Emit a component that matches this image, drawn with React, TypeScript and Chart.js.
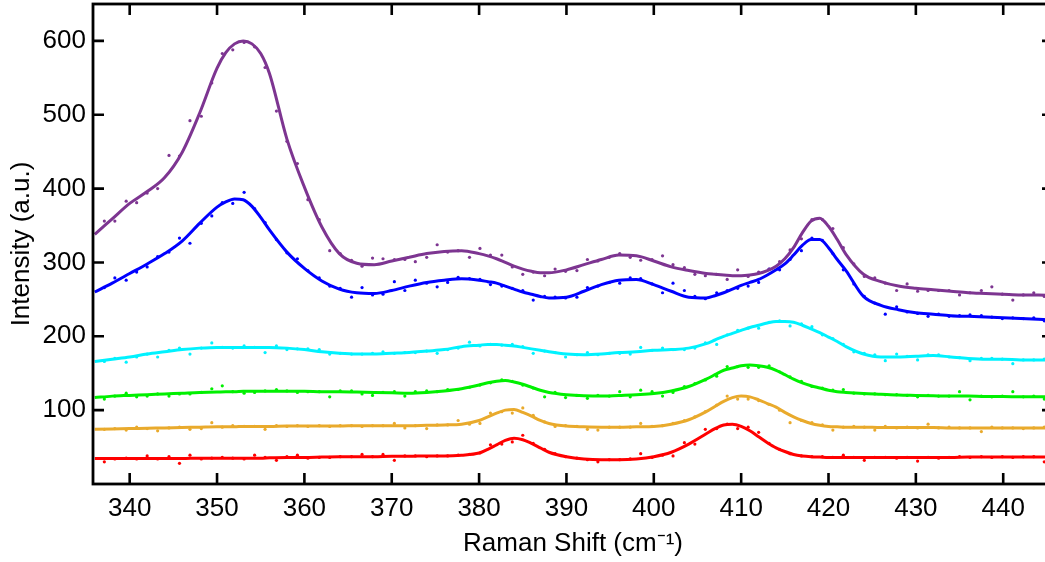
import React, { useEffect, useRef } from 'react';
import { Chart, registerables } from 'chart.js';

Chart.register(...registerables);

// Axis settings
const X_MIN = 335.8;
const X_MAX = 445.7;
const Y_MIN = 0;
const Y_MAX = 650;
const X_TICKS = [340, 350, 360, 370, 380, 390, 400, 410, 420, 430, 440];
const Y_TICKS = [100, 200, 300, 400, 500, 600];

// Measured spectrum sample positions (Raman shift, cm-1)
const DOT_X = [
  337.1, 338.3, 339.6, 340.8, 342.0, 343.2, 344.5, 345.7, 346.9, 348.2,
  349.4, 350.6, 351.8, 353.1, 354.3, 355.5, 356.8, 358.0, 359.2, 360.4,
  361.7, 362.9, 364.1, 365.4, 366.6, 367.8, 369.0, 370.3, 371.5, 372.7,
  374.0, 375.2, 376.4, 377.6, 378.9, 380.1, 381.3, 382.6, 383.8, 385.0,
  386.2, 387.5, 388.7, 389.9, 391.2, 392.4, 393.6, 394.9, 396.1, 397.3,
  398.5, 399.8, 401.0, 402.2, 403.5, 404.7, 405.9, 407.2, 408.4, 409.6,
  410.8, 412.0, 413.2, 414.4, 415.6, 416.9, 418.1, 419.3, 420.5, 421.7,
  422.9, 424.1, 425.3, 426.5, 427.8, 429.0, 430.2, 431.4, 432.6, 433.8,
  435.0, 436.2, 437.5, 438.7, 439.9, 441.1, 442.3, 443.5, 444.7,
];

const PURPLE_DOTS = [
  356, 356, 383, 381, 394, 400, 445, 444, 492, 498,
  543, 583, 588, 598, 592, 564, 505, 464, 434, 385,
  358, 316, 312, 303, 295, 306, 305, 304, 304, 301,
  307, 324, 314, 316, 307, 319, 310, 310, 294, 284,
  287, 282, 291, 288, 289, 304, 302, 307, 312, 307,
  303, 304, 309, 297, 293, 284, 282, 284, 277, 290,
  281, 287, 291, 301, 317, 332, 358, 358, 346, 320,
  298, 281, 279, 272, 262, 271, 261, 262, 262, 262,
  256, 259, 262, 267, 257, 249, 256, 259, 254,
];
const BLUE_DOTS = [
  266, 279, 276, 287, 294, 308, 314, 333, 326, 353,
  363, 381, 380, 395, 373, 354, 331, 313, 305, 289,
  279, 268, 265, 253, 266, 256, 257, 274, 262, 276,
  272, 267, 273, 280, 278, 277, 270, 268, 265, 262,
  249, 254, 253, 252, 253, 266, 268, 273, 272, 279,
  278, 271, 259, 272, 262, 254, 251, 259, 262, 265,
  268, 273, 291, 290, 304, 316, 333, 330, 312, 290,
  271, 254, 245, 230, 240, 233, 231, 227, 230, 227,
  228, 229, 228, 226, 224, 225, 224, 225, 221,
];
const CYAN_DOTS = [
  166, 170, 165, 172, 176, 172, 181, 184, 176, 184,
  191, 185, 184, 187, 185, 178, 187, 182, 183, 183,
  182, 176, 177, 176, 176, 177, 179, 177, 178, 178,
  180, 177, 182, 184, 192, 187, 189, 188, 189, 186,
  177, 180, 178, 172, 175, 178, 175, 177, 177, 176,
  185, 181, 184, 182, 182, 184, 191, 189, 202, 208,
  211, 211, 219, 221, 214, 217, 213, 202, 197, 189,
  179, 177, 175, 167, 176, 173, 168, 175, 175, 172,
  171, 167, 170, 170, 169, 163, 168, 168, 169,
];
const GREEN_DOTS = [
  115, 119, 123, 118, 119, 122, 119, 122, 122, 124,
  129, 133, 125, 123, 124, 126, 128, 126, 124, 125,
  125, 118, 126, 126, 122, 120, 124, 125, 119, 125,
  126, 125, 128, 128, 131, 134, 137, 141, 139, 134,
  130, 118, 124, 117, 120, 116, 120, 119, 125, 118,
  127, 125, 119, 124, 132, 136, 141, 146, 159, 159,
  158, 158, 160, 152, 145, 139, 132, 130, 127, 128,
  123, 122, 122, 121, 121, 120, 118, 120, 119, 119,
  125, 114, 119, 118, 119, 125, 118, 119, 115,
];
const ORANGE_DOTS = [
  74, 75, 73, 77, 75, 72, 76, 77, 74, 75,
  83, 77, 79, 78, 78, 74, 79, 78, 79, 78,
  79, 78, 79, 79, 78, 79, 79, 82, 76, 79,
  75, 80, 80, 86, 81, 82, 96, 98, 96, 103,
  93, 84, 78, 79, 78, 74, 73, 77, 77, 77,
  82, 78, 79, 82, 86, 91, 98, 107, 119, 115,
  115, 113, 108, 100, 83, 86, 83, 80, 73, 77,
  78, 77, 73, 78, 76, 77, 76, 81, 76, 77,
  76, 76, 71, 77, 76, 76, 75, 76, 77,
];
const RED_DOTS = [
  30, 34, 35, 34, 38, 34, 37, 28, 39, 34,
  35, 36, 35, 34, 39, 36, 32, 37, 39, 35,
  36, 36, 37, 37, 40, 37, 40, 32, 38, 38,
  37, 38, 38, 39, 40, 42, 53, 54, 57, 66,
  55, 47, 41, 37, 35, 33, 30, 33, 33, 34,
  41, 36, 39, 38, 56, 54, 74, 75, 81, 75,
  77, 70, 55, 47, 41, 38, 37, 37, 36, 39,
  36, 32, 36, 36, 35, 36, 31, 36, 35, 36,
  37, 36, 37, 36, 37, 36, 37, 37, 30,
];

// Fitted curves, sampled positions
const FIT_X = [
  336, 338, 340, 342, 344, 346, 348, 350, 351, 352, 353, 354, 355, 356,
  358, 360, 362, 364, 366, 368, 370, 372, 374, 376, 378, 380,
  381, 382, 383, 384, 385, 386, 387, 388,
  390, 392, 394, 396, 398, 400, 402, 404, 406,
  407, 408, 409, 410, 411, 412, 413, 414, 415, 416, 417, 418, 419, 420, 421, 422,
  424, 426, 428, 430, 432, 434, 436, 438, 440, 442, 444, 446,
];

const PURPLE_FIT = [
  338, 359, 380, 396, 415, 449, 502, 563, 584, 596, 600, 596, 583, 556,
  467, 402, 348, 312, 299, 297, 302, 307, 312, 315, 316, 312,
  309, 305, 300, 295, 291, 288, 286, 286,
  290, 297, 304, 310, 309, 302, 294, 289, 285,
  284, 283, 282, 282, 283, 285, 289, 295, 305, 320, 340, 356, 360, 349, 331, 311,
  284, 274, 268, 265, 263, 261, 259, 258, 257, 256, 256, 255,
];
const BLUE_FIT = [
  260, 272, 285, 298, 312, 329, 353, 375, 382, 386, 385, 376, 361, 344,
  314, 292, 275, 264, 259, 258, 262, 268, 273, 276, 278, 276,
  274, 272, 268, 264, 260, 257, 254, 252,
  253, 261, 270, 276, 277, 270, 261, 253, 252,
  255, 259, 264, 269, 273, 277, 283, 290, 298, 310, 323, 331, 331, 320, 304, 289,
  254, 242, 236, 232, 230, 228, 227, 226, 225, 224, 223, 222,
];
const CYAN_FIT = [
  166, 169, 172, 176, 179, 182, 184, 185, 185, 185, 185, 185, 185, 185,
  184, 182, 179, 177, 176, 176, 177, 178, 180, 182, 186, 188,
  189, 189, 188, 187, 185, 183, 181, 179,
  176, 175, 176, 178, 179, 181, 182, 184, 190,
  195, 200, 204, 208, 212, 215, 218, 220, 220, 219, 215, 210, 205, 199, 193, 186,
  176, 172, 172, 173, 174, 172, 170, 169, 169, 168, 168, 168,
];
const GREEN_FIT = [
  117, 119, 120, 121, 122, 123, 124, 124.5, 125, 125, 125.5, 125.5, 125.5, 125.5,
  125.5, 125.5, 125, 125, 124.5, 124, 123.5, 123, 124, 126, 129, 134,
  137, 139, 140, 138, 135, 131, 127, 124,
  121, 119.5, 119, 120, 121, 122.5, 126, 132, 142,
  148, 154, 157, 160, 161, 160, 158, 154, 148, 142, 137, 133, 130, 127, 125, 124,
  122.5, 121.5, 120.5, 120, 119.5, 119, 119, 118.5, 118.5, 118, 118, 118,
];
const ORANGE_FIT = [
  74, 74.5, 75, 75.5, 76, 76.5, 77, 77.5, 77.5, 77.5, 78, 78, 78, 78,
  78.5, 78.5, 78.5, 78.5, 79, 79, 79, 79, 79.5, 80, 81, 86,
  91, 96, 100, 101, 97, 92, 86, 82,
  78.5, 77.5, 77, 77, 77.5, 78, 81, 87, 98,
  105, 112, 117, 119, 118, 114, 109, 104, 97, 91, 86, 82, 79.5, 78, 77.5, 77,
  77, 76.5, 76.5, 76.5, 76.5, 76, 76, 76, 76, 76, 76, 76,
];
const RED_FIT = [
  34.5, 34.5, 34.5, 34.5, 34.5, 34.5, 35, 35, 35, 35, 35, 35, 35, 35.5,
  36, 36, 36.5, 37, 37, 37, 37.5, 37.5, 38, 38, 39, 42,
  47, 53, 59, 62, 60, 55, 49, 43,
  37, 34, 33, 33, 34, 37, 43, 54, 68,
  75, 80, 81, 78, 72, 64, 56, 49, 44, 40, 38, 37, 36.5, 36, 36, 36,
  36, 36, 36, 36, 36, 36, 36.5, 36.5, 36.5, 36.5, 36.5, 36.5,
];

const SERIES = [
  { name: 'S6', color: '#7d3591', dots: PURPLE_DOTS, fit: PURPLE_FIT },
  { name: 'S5', color: '#0000ff', dots: BLUE_DOTS, fit: BLUE_FIT },
  { name: 'S4', color: '#00f2ff', dots: CYAN_DOTS, fit: CYAN_FIT },
  { name: 'S3', color: '#00f000', dots: GREEN_DOTS, fit: GREEN_FIT },
  { name: 'S2', color: '#e9aa2c', dots: ORANGE_DOTS, fit: ORANGE_FIT },
  { name: 'S1', color: '#ff0000', dots: RED_DOTS, fit: RED_FIT },
];

const FONT_FAMILY = '"Liberation Sans", Arial, Helvetica, sans-serif';

const framePlugin = {
  id: 'frameTicks',
  afterDatasetsDraw(chart: any) {
    const { ctx, chartArea: a, scales } = chart;
    const xs = scales.x;
    const ys = scales.y;
    const L = 11;
    ctx.save();
    ctx.strokeStyle = '#000';
    ctx.lineWidth = 2.6;
    ctx.lineCap = 'butt';
    ctx.beginPath();
    for (const v of X_TICKS) {
      const px = xs.getPixelForValue(v);
      ctx.moveTo(px, a.bottom);
      ctx.lineTo(px, a.bottom - L);
      ctx.moveTo(px, a.top);
      ctx.lineTo(px, a.top + L);
    }
    for (const v of Y_TICKS) {
      const py = ys.getPixelForValue(v);
      ctx.moveTo(a.left, py);
      ctx.lineTo(a.left + L, py);
      ctx.moveTo(a.right, py);
      ctx.lineTo(a.right - L, py);
    }
    ctx.stroke();
    ctx.lineWidth = 2.8;
    ctx.strokeRect(a.left, a.top, a.right - a.left, a.bottom - a.top);
    ctx.restore();
  },
};

export default function App() {
  const canvasRef = useRef<HTMLCanvasElement | null>(null);

  useEffect(() => {
    const canvas = canvasRef.current;
    if (!canvas) return;

    const datasets: any[] = [];
    SERIES.forEach((s) => {
      datasets.push({
        label: s.name + ' fit',
        data: FIT_X.map((x, i) => ({ x, y: s.fit[i] })),
        borderColor: s.color,
        borderWidth: 3,
        pointRadius: 0,
        fill: false,
        cubicInterpolationMode: 'monotone',
        order: 0,
      });
      datasets.push({
        label: s.name,
        data: DOT_X.map((x, i) => ({ x, y: s.dots[i] })),
        showLine: false,
        pointRadius: 1.6,
        pointBorderWidth: 0,
        pointBackgroundColor: s.color,
        borderColor: s.color,
        order: 1,
      });
    });

    const chart = new Chart(canvas, {
      type: 'line',
      data: { datasets },
      options: {
        animation: false,
        responsive: false,
        maintainAspectRatio: false,
        devicePixelRatio: 1,
        layout: { padding: { left: 0, top: 4, right: 9, bottom: 0 } },
        plugins: {
          legend: { display: false },
          tooltip: { enabled: false },
        },
        scales: {
          x: {
            type: 'linear',
            min: X_MIN,
            max: X_MAX,
            afterBuildTicks: (scale: any) => {
              scale.ticks = X_TICKS.map((v) => ({ value: v }));
            },
            afterFit: (scale: any) => {
              scale.height = 78;
              scale.paddingLeft = 0;
              scale.paddingRight = 0;
            },
            grid: { display: false, drawTicks: false },
            border: { display: false },
            ticks: {
              color: '#000',
              padding: 9,
              maxRotation: 0,
              font: { family: FONT_FAMILY, size: 26 },
              callback: (v: any) => String(v),
            },
            title: {
              display: true,
              text: 'Raman Shift (cm\u207B\u00B9)',
              color: '#000',
              font: { family: FONT_FAMILY, size: 26 },
              padding: { top: 0, bottom: 3 },
            },
          },
          y: {
            type: 'linear',
            min: Y_MIN,
            max: Y_MAX,
            afterBuildTicks: (scale: any) => {
              scale.ticks = Y_TICKS.map((v) => ({ value: v }));
            },
            afterFit: (scale: any) => {
              scale.width = 93;
              scale.paddingTop = 0;
              scale.paddingBottom = 0;
            },
            grid: { display: false, drawTicks: false },
            border: { display: false },
            ticks: {
              color: '#000',
              padding: 7,
              font: { family: FONT_FAMILY, size: 26 },
              callback: (v: any) => String(v),
            },
            title: {
              display: true,
              text: 'Intensity (a.u.)',
              color: '#000',
              font: { family: FONT_FAMILY, size: 26 },
              padding: { top: 6, bottom: 0 },
            },
          },
        },
      },
      plugins: [framePlugin],
    } as any);

    return () => {
      chart.destroy();
    };
  }, []);

  return (
    <div
      style={{
        position: 'fixed',
        left: 0,
        top: 0,
        width: 1045,
        height: 562,
        overflow: 'hidden',
        background: '#ffffff',
      }}
    >
      <canvas ref={canvasRef} width={1062} height={562} style={{ display: 'block' }} />
    </div>
  );
}
